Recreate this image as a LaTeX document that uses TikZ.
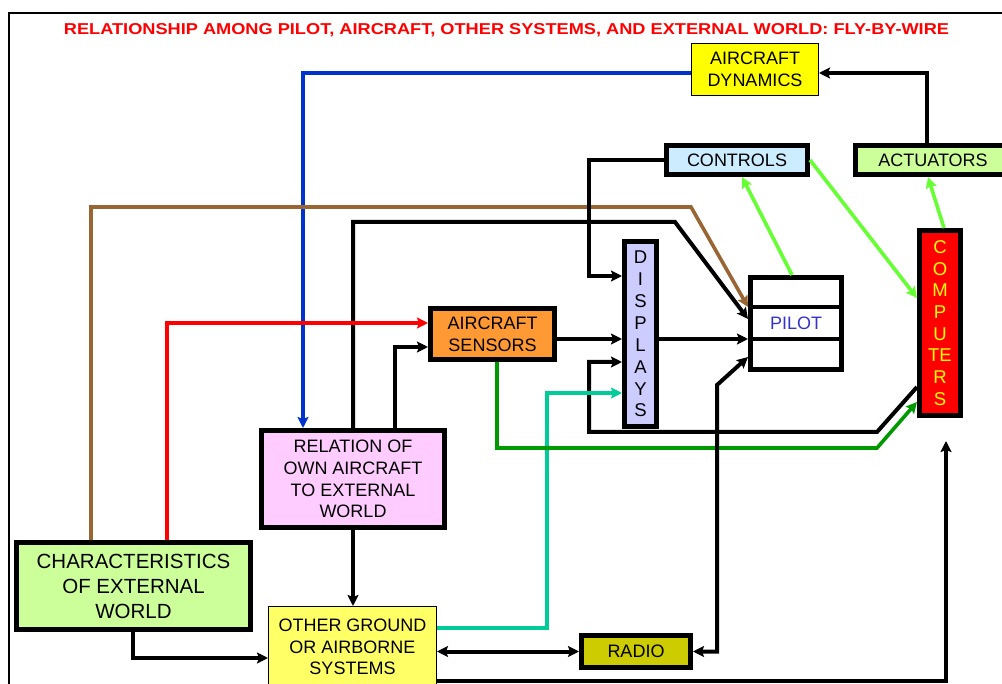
\documentclass[tikz,border=0pt]{standalone}
\usepackage{fontspec}
\setmainfont{Liberation Sans}
\usetikzlibrary{arrows.meta}
\definecolor{cDyn}{HTML}{FFFF00}
\definecolor{cCtrl}{HTML}{CCECFF}
\definecolor{cAct}{HTML}{CCFF99}
\definecolor{cComp}{HTML}{FF0000}
\definecolor{cCompTxt}{HTML}{FFFF00}
\definecolor{cDisp}{HTML}{CCCCFF}
\definecolor{cSens}{HTML}{FF9933}
\definecolor{cRel}{HTML}{FFCCFF}
\definecolor{cChar}{HTML}{CCFF99}
\definecolor{cOth}{HTML}{FFFF66}
\definecolor{cRadio}{HTML}{CCCC00}
\definecolor{cPilotTxt}{HTML}{3333CC}
\definecolor{cBlue}{HTML}{0033CC}
\definecolor{cBrown}{HTML}{996633}
\definecolor{cRed}{HTML}{FF0000}
\definecolor{cLtGreen}{HTML}{66FF33}
\definecolor{cDkGreen}{HTML}{009900}
\definecolor{cTeal}{HTML}{00CC99}
\begin{document}
\begin{tikzpicture}[x=1pt,y=-1pt,
  box/.style={draw, rectangle, inner sep=0pt, align=center,
    font=\fontsize{18}{21.7}\selectfont, line width=5pt},
  tip/.tip={Stealth[length=11pt,width=11pt,inset=2pt]},
  conn/.style={line width=4pt, -tip},
  dbl/.style={line width=4pt, tip-tip},
  cconn/.style={line width=3.6pt, -tip}]
\useasboundingbox (0,0) rectangle (1002,684);
\clip (0,0) rectangle (1002,684);
% frame
\draw[line width=2pt] (8.5,700) -- (8.5,13) -- (1010,13);
% title
\node[anchor=base, text=cRed, inner sep=0pt] (title) at (506.5,34.3)
  {\resizebox{885pt}{11pt}{\bfseries RELATIONSHIP AMONG PILOT, AIRCRAFT, OTHER SYSTEMS, AND EXTERNAL WORLD: FLY-BY-WIRE}};
% boxes
\node[box, fill=cDyn, line width=1pt, minimum width=127pt, minimum height=52pt] (dyn) at (755,69.5) {AIRCRAFT\\DYNAMICS};
\node[box, fill=cCtrl, minimum width=141pt, minimum height=29pt] (ctrl) at (737,160) {CONTROLS};
\node[box, fill=cAct, minimum width=155pt, minimum height=29pt] (act) at (933,160) {ACTUATORS};
\node[box, fill=cComp, text=cCompTxt, minimum width=41pt, minimum height=185pt, font=\fontsize{18.5}{21.7}\selectfont] (comp) at (940,323) {C\\O\\M\\P\\U\\TE\\R\\S};
\node[box, fill=cDisp, minimum width=32pt, minimum height=185pt, font=\fontsize{18.5}{21.9}\selectfont] (disp) at (640.5,334) {D\\I\\S\\P\\L\\A\\Y\\S};
\node[box, fill=white, text=cPilotTxt, minimum width=91pt, minimum height=92pt] (pilot) at (796,323.5) {PILOT};
\draw[line width=4pt] (pilot.west |- 0,307.5) -- (pilot.east |- 0,307.5);
\draw[line width=4pt] (pilot.west |- 0,339.5) -- (pilot.east |- 0,339.5);
\node[box, fill=cSens, minimum width=124pt, minimum height=51pt] (sens) at (492.5,334) {AIRCRAFT\\SENSORS};
\node[box, fill=cRel, minimum width=183pt, minimum height=97pt] (rel) at (353,479) {RELATION OF\\OWN AIRCRAFT\\TO EXTERNAL\\WORLD};
\node[box, fill=cChar, minimum width=234pt, minimum height=87pt, font=\fontsize{20.5}{25}\selectfont] (char) at (133.5,586) {CHARACTERISTICS\\OF EXTERNAL\\WORLD};
\node[box, fill=cOth, line width=1pt, minimum width=168pt, minimum height=81pt] (oth) at (352.5,647) {OTHER GROUND\\OR AIRBORNE\\SYSTEMS};
\node[box, fill=cRadio, minimum width=109pt, minimum height=32pt] (radio) at (636,651.5) {RADIO};
\coordinate (cin) at (946,441);
% connectors
\draw[cconn, cBlue] (dyn.west |- 0,73) -| (rel.north -| 303,0);
\draw[cconn, cBrown] (char.north -| 91,0) |- (691,207) -- (pilot.west |- 0,307);
\draw[conn] (rel.north -| 353,0) |- (675,222) -- (pilot.west |- 0,319);
\draw[cconn, cRed] (char.north -| 167,0) |- (sens.west |- 0,323);
\draw[conn] (rel.north -| 395,0) |- (sens.west |- 0,347);
\draw[conn] (sens.east |- 0,339) -- (disp.west |- 0,339);
\draw[conn] (disp.east |- 0,339) -- (pilot.west |- 0,339);
\draw[conn] (ctrl.west) -| (589,276) -- (disp.west |- 0,276);
\draw[conn] (comp.west |- 0,387) -- (877,432) -| (589,362) -- (disp.west |- 0,362);
\draw[cconn, cTeal] (oth.east |- 0,628) -| (547,393) -- (disp.west |- 0,393);
\draw[cconn, cDkGreen] (sens.south -| 497,0) |- (877,448) -- (comp.west |- 0,402);
\draw[cconn, cLtGreen] (pilot.north -| 792,0) -- (ctrl.south -| 742,0);
\draw[cconn, cLtGreen] (ctrl.east) -- (comp.west |- 0,298);
\draw[cconn, cLtGreen] (comp.north -| 944,0) -- (act.south -| 928,0);
\draw[conn] (act.north -| 927,0) |- (dyn.east |- 0,73);
\draw[conn] (char.south -| 133,0) |- (oth.west |- 0,658);
\draw[conn] (rel.south) -- (oth.north -| rel.south);
\draw[dbl] (oth.east |- 0,651.5) -- (radio.west);
\draw[dbl] (radio.east) -| (717,385) -- (pilot.west |- 0,357);
\draw[conn] (oth.east |- 0,681) -| (cin);
\end{tikzpicture}
\end{document}
